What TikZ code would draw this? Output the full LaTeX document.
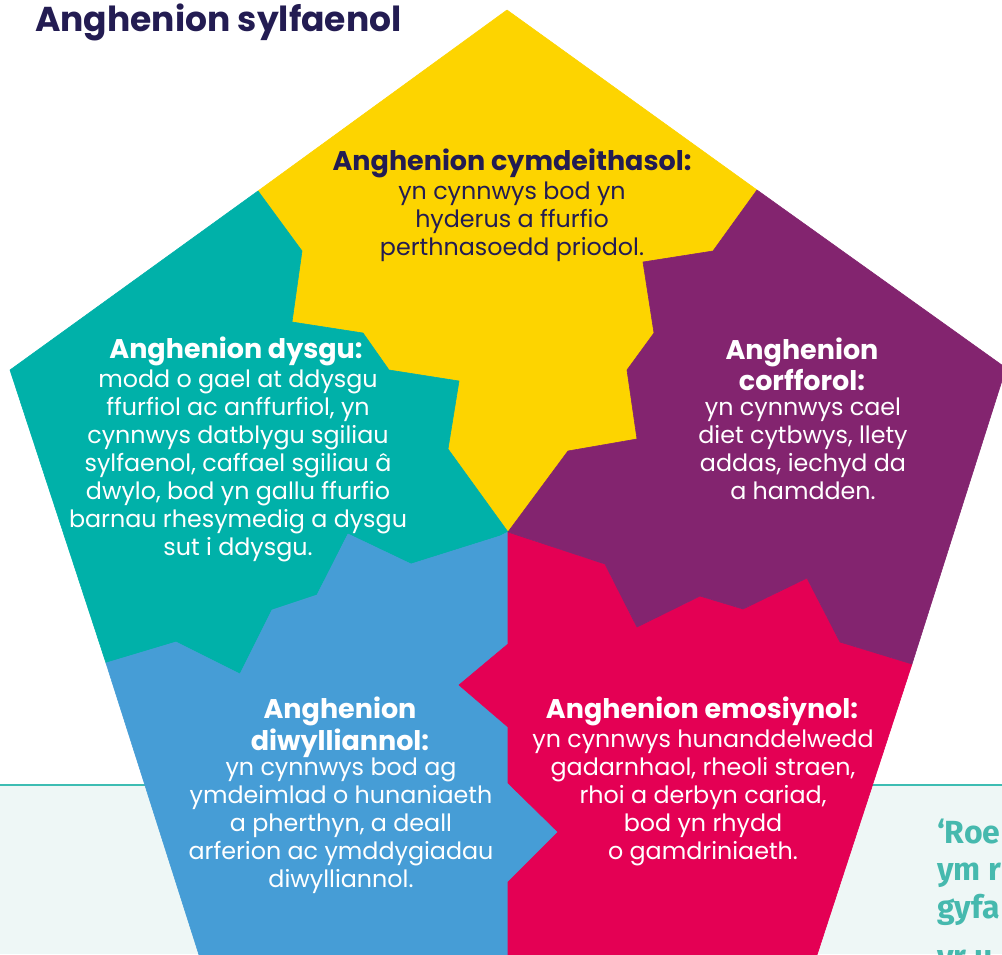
\documentclass[tikz,border=0pt]{standalone}
\usepackage{fontspec}
\setmainfont{Poppins}
\newfontfamily\quotefont{Fira Sans}
\usetikzlibrary{positioning}
\definecolor{pnavy}{HTML}{231C52}
\definecolor{pyellow}{HTML}{FDD400}
\definecolor{pteal}{HTML}{00B1A9}
\definecolor{ppurple}{HTML}{83246F}
\definecolor{pred}{HTML}{E40054}
\definecolor{pblue}{HTML}{469DD6}
\definecolor{pmint}{HTML}{EEF7F6}
\definecolor{pline}{HTML}{3DBDB3}
\definecolor{pquote}{HTML}{46B9AE}

\begin{document}
\begin{tikzpicture}[x=1pt, y=-1pt,
    piece/.style={fill=#1, draw=#1, line width=0.6pt, line join=round},
    head/.style={font=\fontsize{27}{31}\selectfont\bfseries, text=#1, anchor=base, inner sep=0pt},
    body/.style={font=\fontsize{23.8}{28}\selectfont, text=#1, anchor=base, inner sep=0pt},
]
\useasboundingbox (0,0) rectangle (1002,954);
\clip (0,0) rectangle (1002,954);

% background band
\fill[pmint] (0,785) rectangle (1002,954);
\draw[pline, line width=1.6pt] (0,785) -- (1002,785);

% pentagon corners and side midpoints
\coordinate (C) at (508,532);
\coordinate (T) at (507,10);
\coordinate (UL) at (10,370);
\coordinate (UR) at (1006,368);
\coordinate (BL) at (200,958);
\coordinate (BR) at (816,958);
\coordinate (mTL) at (258,191);
\coordinate (mTR) at (757,190);
\coordinate (mL) at (106,663);
\coordinate (mB) at (508,958);
\coordinate (mBR) at (912,664);

% pieces
\path[piece=pyellow] (C) -- (448,449) -- (459,381) -- (389,370) -- (363,333) -- (292,322) -- (302,251) -- (mTL)
    -- (T) -- (mTR) -- (713,251) -- (643,262) -- (654,333) -- (627,370) -- (637,439) -- (568,451) -- cycle;
\path[piece=pteal] (C) -- (448,449) -- (459,381) -- (389,370) -- (363,333) -- (292,322) -- (302,251) -- (mTL)
    -- (UL) -- (mL) -- (176,642) -- (240,674) -- (272,610) -- (317,595) -- (348,534) -- (411,564) -- (500,536) -- cycle;
\path[piece=pblue] (C) -- (500,536) -- (411,564) -- (348,534) -- (317,595) -- (272,610) -- (240,674) -- (176,642) -- (mL)
    -- (BL) -- (mB) -- (508,882) -- (558,832) -- (508,783) -- (508,727) -- (459,685) -- (508,644) -- cycle;
\path[piece=pred] (C) -- (508,644) -- (459,685) -- (508,727) -- (508,783) -- (558,832) -- (508,882) -- (mB)
    -- (BR) -- (mBR) -- (840,642) -- (807,578) -- (743,609) -- (700,596) -- (637,627) -- (605,564) -- cycle;
\path[piece=ppurple] (C) -- (605,564) -- (637,627) -- (700,596) -- (743,609) -- (807,578) -- (840,642) -- (mBR)
    -- (UR) -- (mTR) -- (713,251) -- (643,262) -- (654,333) -- (627,370) -- (637,439) -- (568,451) -- cycle;

% title
\node[font=\fontsize{34.5}{40}\selectfont\bfseries, text=pnavy, anchor=base west, inner sep=0pt] (title) at (35,31) {Anghenion sylfaenol};

% social
\node[head=pnavy] (social) at (512,170) {Anghenion cymdeithasol:};
\foreach \t [count=\i] in {yn cynnwys bod yn, hyderus a ffurfio, perthnasoedd priodol.}
    \node[body=pnavy] (social-\i) at (512,171+28*\i) {\t};

% learning
\node[head=white] (learning) at (236,358) {Anghenion dysgu:};
\foreach \t [count=\i] in {modd o gael at ddysgu, {ffurfiol ac anffurfiol, yn}, cynnwys datblygu sgiliau,
    {sylfaenol, caffael sgiliau â}, {dwylo, bod yn gallu ffurfio}, barnau rhesymedig a dysgu, sut i ddysgu.}
    \node[body=white] (learning-\i) at (238,359+28*\i) {\t};

% physical
\node[head=white] (physical) at (802,359) {Anghenion};
\node[head=white] (physical-b) at (802,390) {corfforol:};
\foreach \t [count=\i] in {yn cynnwys cael, {diet cytbwys, llety}, {addas, iechyd da}, a hamdden.}
    \node[body=white] (physical-\i) at (803,387+28*\i) {\t};

% cultural
\node[head=white] (cultural) at (340,718) {Anghenion};
\node[head=white] (cultural-b) at (340,750) {diwylliannol:};
\foreach \t [count=\i] in {yn cynnwys bod ag, ymdeimlad o hunaniaeth, {a pherthyn, a deall}, arferion ac ymddygiadau, diwylliannol.}
    \node[body=white] (cultural-\i) at (341,748+27.8*\i) {\t};

% emotional
\node[head=white] (emotional) at (702,718) {Anghenion emosiynol:};
\foreach \t [count=\i] in {yn cynnwys hunanddelwedd, {gadarnhaol, rheoli straen,}, {rhoi a derbyn cariad,}, bod yn rhydd, o gamdriniaeth.}
    \node[body=white] (emotional-\i) at (703,719+28*\i) {\t};

% quote, cut by the page edge
\foreach \t/\y [count=\i] in {‘Roe/843, ym r/880.5, gyfa/918, yr u/967}
    \node[font=\quotefont\fontsize{32}{37}\selectfont\bfseries, text=pquote, anchor=base west, inner sep=0pt] (quote-\i) at (937,\y) {\t};

\end{tikzpicture}
\end{document}
